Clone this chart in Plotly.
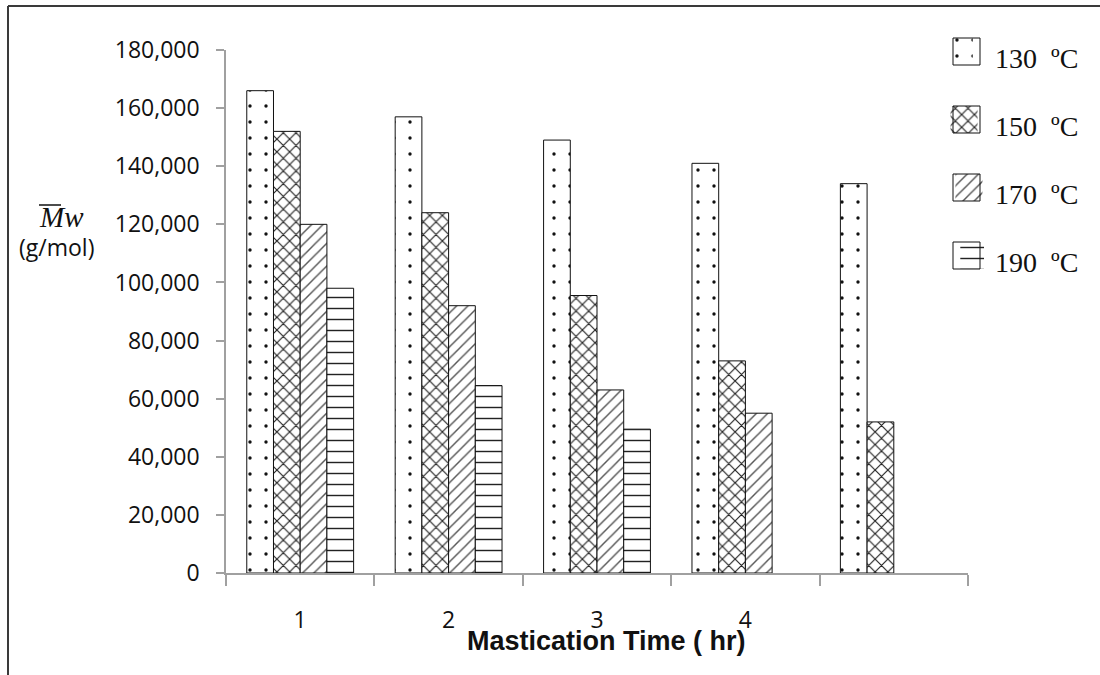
import plotly.graph_objects as go

# Mastication time groups (hours) and molecular weight series per temperature
hours = [1, 2, 3, 4, 5]
hour_labels = ["1", "2", "3", "4"]
temps = ["130 \u00baC", "150 \u00baC", "170 \u00baC", "190 \u00baC"]
mw_130 = [166000, 157000, 149000, 141000, 134000]
mw_150 = [152000, 124000, 95500, 73000, 52000]
mw_170 = [120000, 92000, 63000, 55000, None]
mw_190 = [98000, 64500, 49500, None, None]
y_ticks = [0, 20000, 40000, 60000, 80000, 100000, 120000, 140000, 160000, 180000]

series = [mw_130, mw_150, mw_170, mw_190]

# Page geometry (pixels)
W, H = 1100, 675
L, B = 226, 102          # left / bottom margins of the plotting region
PLOT_RIGHT = 968         # right edge of main axes
PLOT_TOP = 50            # top of main axes
AREA_W = W - L
AREA_H = H - B


def px(x):
    return (x - L) / AREA_W


def py(y):
    return (AREA_H - y) / AREA_H


patterns = [
    dict(shape=".", size=16, solidity=0.035, fgcolor="#111111", bgcolor="white"),
    dict(shape="x", size=9, solidity=0.24, fgcolor="#222222", bgcolor="white"),
    dict(shape="/", size=8, solidity=0.18, fgcolor="#555555", bgcolor="white"),
    dict(shape="-", size=11, solidity=0.13, fgcolor="#222222", bgcolor="white"),
]

fig = go.Figure()

for name, vals, pat in zip(temps, series, patterns):
    fig.add_trace(go.Bar(
        x=hours, y=vals, name=name,
        marker=dict(color="white", line=dict(color="#111111", width=1), pattern=pat),
        showlegend=False, xaxis="x", yaxis="y",
    ))

# Key: patterned squares drawn on a small pixel-unit axis pair, labels as text
KEY_LEFT, KEY_RIGHT = 953, 980
KEY_SIZE = 27
KEY_PAD = 0.15           # room around the unit-wide square so its outline is not clipped
key_w = KEY_RIGHT - KEY_LEFT
key_text_y = [58, 126, 194, 262]
shapes = []
for name, ty, pat in zip(temps, key_text_y, patterns):
    top = ty - 20
    fig.add_trace(go.Bar(
        x=[0.5], y=[KEY_SIZE], base=[top], width=[1],
        marker=dict(color="white", line=dict(width=0), pattern=pat),
        showlegend=False, xaxis="x2", yaxis="y2", hoverinfo="skip",
    ))
    shapes.append(dict(
        type="rect", xref="x2", yref="y2", x0=0, x1=1, y0=top, y1=top + KEY_SIZE,
        line=dict(color="#111111", width=1), fillcolor="rgba(0,0,0,0)",
    ))

axis_gray = "#a0a0a0"
annotations = []
for name, ty in zip(temps, key_text_y):
    annotations.append(dict(
        x=px(993), y=py(ty), xref="paper", yref="paper",
        xanchor="left", yanchor="middle", showarrow=False,
        text=name.replace(" ", "\u00a0 "),
        font=dict(family="Liberation Serif, Times New Roman, serif", size=28, color="#111111"),
    ))

# Axis titles
annotations.append(dict(
    x=px(606), y=py(641), xref="paper", yref="paper",
    xanchor="center", yanchor="middle", showarrow=False,
    text="<b>Mastication Time ( hr)</b>",
    font=dict(family="Liberation Sans, Arial, sans-serif", size=27, color="#111111"),
))
annotations.append(dict(
    x=px(61), y=py(217), xref="paper", yref="paper",
    xanchor="center", yanchor="middle", showarrow=False,
    text="<i>Mw</i>",
    font=dict(family="Liberation Serif, Times New Roman, serif", size=29, color="#111111"),
))
annotations.append(dict(
    x=px(56), y=py(247), xref="paper", yref="paper",
    xanchor="center", yanchor="middle", showarrow=False,
    text="(g/mol)",
    font=dict(family="Open Sans, sans-serif", size=23, color="#111111"),
))

shapes += [
    # overline above M
    dict(type="line", xref="paper", yref="paper",
         x0=px(39), x1=px(61), y0=py(205), y1=py(205),
         line=dict(color="#111111", width=1.5)),
    # outer frame (left and top edges)
    dict(type="line", xref="paper", yref="paper",
         x0=px(8), x1=px(8), y0=py(6), y1=py(H + 5),
         line=dict(color="#3a3a3a", width=2)),
    dict(type="line", xref="paper", yref="paper",
         x0=px(8), x1=px(W + 5), y0=py(6), y1=py(6),
         line=dict(color="#3a3a3a", width=2)),
]

fig.update_layout(
    template="none",
    width=W, height=H, autosize=False,
    margin=dict(l=L, r=0, t=0, b=B, pad=0, autoexpand=False),
    paper_bgcolor="white", plot_bgcolor="rgba(0,0,0,0)",
    barmode="group", bargap=0.28, bargroupgap=0,
    showlegend=False,
    annotations=annotations,
    shapes=shapes,
    xaxis=dict(
        domain=[0, px(PLOT_RIGHT)], range=[0.5, 5.5], anchor="y",
        automargin=False,
        tickmode="array", tickvals=[1, 2, 3, 4], ticktext=hour_labels,
        ticks="outside", ticklen=0, tickcolor="rgba(0,0,0,0)",
        ticklabelstandoff=26,
        minor=dict(ticks="outside", tick0=0.5, dtick=1, ticklen=11,
                   tickcolor=axis_gray, tickwidth=1.5, showgrid=False),
        showline=True, linecolor=axis_gray, linewidth=1.5,
        showgrid=False, zeroline=False,
        tickfont=dict(family="Open Sans, sans-serif", size=23, color="#111111"),
    ),
    yaxis=dict(
        domain=[0, py(PLOT_TOP)], range=[0, 180000], anchor="x",
        automargin=False,
        tickmode="array", tickvals=y_ticks, tickformat=",",
        ticks="outside", ticklen=8, tickcolor=axis_gray, tickwidth=1.5,
        ticklabelstandoff=12,
        showline=True, linecolor=axis_gray, linewidth=1.5,
        showgrid=False, zeroline=False,
        tickfont=dict(family="Open Sans, sans-serif", size=23, color="#111111"),
    ),
    xaxis2=dict(
        domain=[px(KEY_LEFT - KEY_PAD * key_w), px(KEY_RIGHT + KEY_PAD * key_w)],
        range=[-KEY_PAD, 1 + KEY_PAD], anchor="y2",
        visible=False, fixedrange=True, automargin=False,
    ),
    yaxis2=dict(
        domain=[0, 1], range=[AREA_H, 0], anchor="x2",
        visible=False, fixedrange=True, automargin=False,
    ),
)

fig.write_html("out.html")
